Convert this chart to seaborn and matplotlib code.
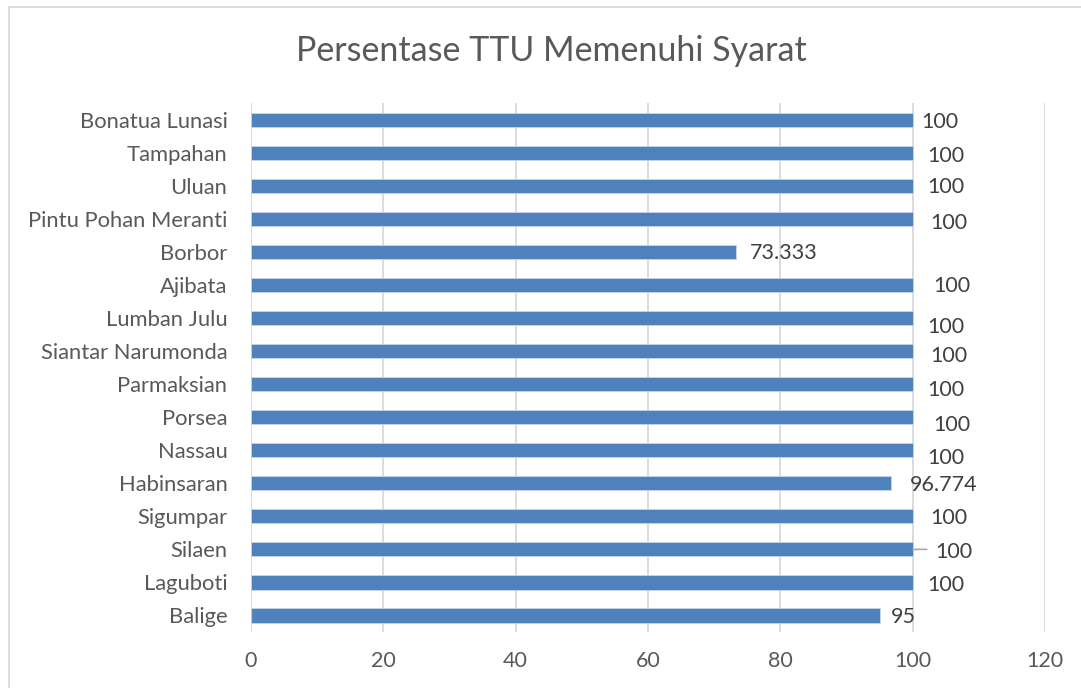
import seaborn as sns
import pandas as pd
import matplotlib.pyplot as plt
from matplotlib.patches import Rectangle

kecamatan = ["Bonatua Lunasi", "Tampahan", "Uluan", "Pintu Pohan Meranti", "Borbor",
             "Ajibata", "Lumban Julu", "Siantar Narumonda", "Parmaksian", "Porsea",
             "Nassau", "Habinsaran", "Sigumpar", "Silaen", "Laguboti", "Balige"]
persen = [100, 100, 100, 100, 73.333, 100, 100, 100, 100, 100, 100, 96.774, 100, 100, 100, 95]
label_teks = ["100", "100", "100", "100", "73.333", "100", "100", "100", "100", "100",
              "100", "96.774", "100", "100", "100", "95"]

# label offsets (pixels) as moved by hand in the original
dx = [9, 15, 15, 18, 14, 21, 15, 18, 15, 21, 15, 19, 18, 23, 15, 11]
dy = [-2, -3, -1, -4, -1, -1, -9, -5, -6, -8, -8, -2, -2, -3, -3, -2]

df = pd.DataFrame({"Kecamatan": kecamatan, "Persen": persen})

sns.set_style("white")
plt.rcParams['font.family'] = ['Lato', 'DejaVu Sans']
abu = "#595959"

fig = plt.figure(figsize=(10.81, 6.88), dpi=100)
ax = fig.add_axes([0.2322, 0.0814, 0.7345, 0.7686])

sns.barplot(data=df, x="Persen", y="Kecamatan", color="#4F81BD", width=0.43,
            saturation=1, edgecolor="#c9d7ea", linewidth=0.6, ax=ax, zorder=3)

ax.set_xlim(0, 120)
ax.set_ylim(15.5, -0.5)
ax.set_xticks(range(0, 121, 20))
ax.grid(axis="x", color="#d9d9d9", linewidth=1.3, zorder=0)
for s in ax.spines.values():
    s.set_visible(False)
ax.tick_params(axis="both", length=0, colors=abu)
ax.tick_params(axis="y", labelsize=15.8, pad=17)
ax.tick_params(axis="x", labelsize=15.5, pad=14)
ax.set_xlabel("")
ax.set_ylabel("")

for i, (v, t) in enumerate(zip(persen, label_teks)):
    ax.annotate(t, (v, i), xytext=(dx[i], dy[i]), textcoords="offset pixels",
                ha="left", va="center", fontsize=15.5, color="#404040", zorder=4)

# leader line for the Silaen label
i_sil = kecamatan.index("Silaen")
ax.annotate("", (persen[i_sil], i_sil), xytext=(14, 0), textcoords="offset pixels",
            arrowprops=dict(arrowstyle="-", color="#a6a6a6", lw=1.2, shrinkA=0, shrinkB=0))

fig.text(0.51, 0.926, "Persentase TTU Memenuhi Syarat", ha="center", va="center",
         fontsize=24.5, color=abu)

fig.patches.append(Rectangle((9 / 1081, -0.01), 1.02, 1 - 7 / 688 + 0.01,
                             transform=fig.transFigure, fill=False,
                             edgecolor="#d9d9d9", linewidth=1.3))

fig.savefig("out.png", dpi=100)
